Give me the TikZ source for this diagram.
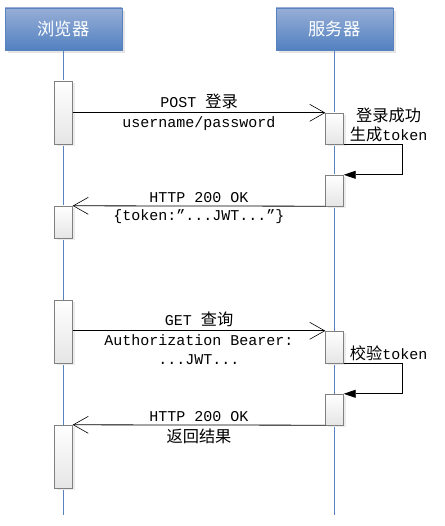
\documentclass[tikz,border=0pt]{standalone}
\usepackage{fontspec}
\setmainfont{Liberation Mono}
\newfontfamily\cjk[Scale=1.08]{Noto Sans CJK SC}
\usetikzlibrary{arrows.meta,shadows}

\definecolor{headtop}{HTML}{97AED6}
\definecolor{headbot}{HTML}{5281C1}
\definecolor{headline}{HTML}{5A82BF}

\tikzset{
  head/.style={draw=headline, top color=headtop, bottom color=headbot,
    text=white, minimum width=117pt, minimum height=42pt,
    font=\cjk\fontsize{16}{16}\selectfont,
    drop shadow={shadow xshift=3pt, shadow yshift=-3pt, fill=black!10, opacity=1}},
  act/.style={draw=black!50, top color=white, bottom color=black!10,
    minimum width=18pt, inner sep=0pt,
    drop shadow={shadow xshift=2pt, shadow yshift=-2pt, fill=black!8, opacity=1}},
  life/.style={draw=headline, line width=0.7pt},
  msg/.style={line width=0.8pt, -{Straight Barb[length=15pt,width=17pt,line width=0.6pt]}},
  selfmsg/.style={line width=0.8pt, -{Triangle[length=12pt,width=8pt]}},
  note/.style={anchor=south west, inner sep=2pt, xshift=4pt, align=center}
}

\begin{document}
\begin{tikzpicture}[x=1pt, y=-1pt, font=\fontsize{15}{19}\selectfont]
      % Canvas
      \useasboundingbox (0,0) rectangle (444,526);

      % Participants
      \node[head] (browser) at (63.5,29) {浏览器};
      \node[head] (server) at (334.5,29) {服务器};

      % Lifelines
      \coordinate (bottom) at (0,515);
      \draw[life] (browser.south) -- (browser.south |- bottom);
      \draw[life] (server.south) -- (server.south |- bottom);

      % Activation boxes
      \node[act, minimum height=63pt] (ba1) at (63.5,112.5) {};
      \node[act, minimum height=31pt] (sa1) at (334.5,128.5) {};
      \node[act, minimum height=31pt] (sa2) at (334.5,190.5) {};
      \node[act, minimum height=32pt] (ba2) at (63.5,222) {};
      \node[act, minimum height=63pt] (ba3) at (63.5,331.5) {};
      \node[act, minimum height=32pt] (sa3) at (334.5,347) {};
      \node[act, minimum height=31pt] (sa4) at (334.5,409.5) {};
      \node[act, minimum height=63pt] (ba4) at (63.5,456.5) {};

      % Login
      \draw[msg] (ba1.east |- sa1.north) -- (sa1.north west)
        node[midway, above] {POST {\cjk 登录}}
        node[midway, below] {username/password};
      \draw[selfmsg] (sa1.south east) -- ++(59,0) |- (sa2.north east);
      \node[note] (loginok) at (sa1.south east) {{\cjk 登录成功}\\{\cjk 生成}token};
      \draw[msg] (sa2.south west) -- (ba2.north east)
        node[midway, above] {HTTP 200 OK}
        node[midway, below] {\{token:”...JWT...”\}};

      % Query
      \draw[msg] (ba3.east |- sa3.north) -- (sa3.north west)
        node[midway, above] {GET {\cjk 查询}}
        node[midway, below, align=center] {Authorization Bearer:\\...JWT...};
      \draw[selfmsg] (sa3.south east) -- ++(59,0) |- (sa4.north east);
      \node[note] (check) at (sa3.south east) {{\cjk 校验}token};
      \draw[msg] (sa4.south west) -- (ba4.north east)
        node[midway, above] {HTTP 200 OK}
        node[midway, below] {\cjk 返回结果};
\end{tikzpicture}
\end{document}
